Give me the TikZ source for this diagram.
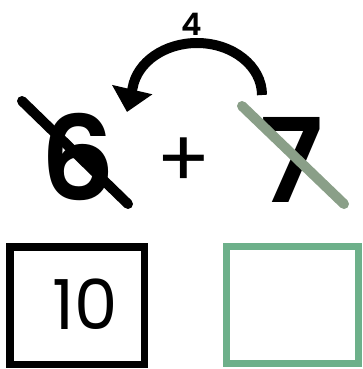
\documentclass[tikz,border=0pt]{standalone}
\usepackage{fontspec}
\setmainfont{Poppins}[BoldFont={Poppins SemiBold}]
\usepackage{tikz}
\usetikzlibrary{positioning, arrows.meta}
\definecolor{ink}{HTML}{000000}
\definecolor{sage}{HTML}{8A9F88}
\definecolor{leaf}{HTML}{6DB08A}

\begin{document}
\begin{tikzpicture}[x=1pt, y=-1pt,
  digit/.style={inner sep=0pt, font=\fontsize{117}{117}\selectfont\bfseries},
  strike/.style={line width=10pt, line cap=round},
  answer/.style={draw, line width=7.5pt, minimum width=134.5pt,
                 minimum height=117.5pt, inner sep=0pt},
  jump/.style={line width=10pt, -{Triangle[width=40pt, length=23pt]}}
]
  \useasboundingbox (0,0) rectangle (362,369);

  % the sum
  \node[digit] (six) at (78,157) {6};
  \node[inner sep=0pt, font=\fontsize{80}{80}\selectfont] (plus) at (184,163) {+};
  \node[digit] (seven) at (292,160) {7};

  % crossing out
  \draw[strike, ink] (22,101) -- (128,204);
  \draw[strike, sage] (242,106) -- (344,204);

  % the jump of 4
  \coordinate (jumpstart) at (262,95);
  \coordinate (jumpend) at (127,112);
  \draw[jump] (jumpstart) arc[start angle=0, end angle=-172,
                              x radius=65, y radius=52] -- (jumpend);
  \node[inner sep=0pt, font=\fontsize{31}{31}\selectfont\bfseries] (four) at (192,24) {4};

  % answer boxes
  \node[answer, ink] (tens) at (77,305.5) {};
  \node[inner sep=0pt, font=\fontsize{69}{69}\selectfont] (ten) at (85,304) {10};
  \node[answer, leaf, line width=7pt, minimum width=132pt,
        minimum height=117pt] (rest) at (292.5,305) {};

\end{tikzpicture}
\end{document}
